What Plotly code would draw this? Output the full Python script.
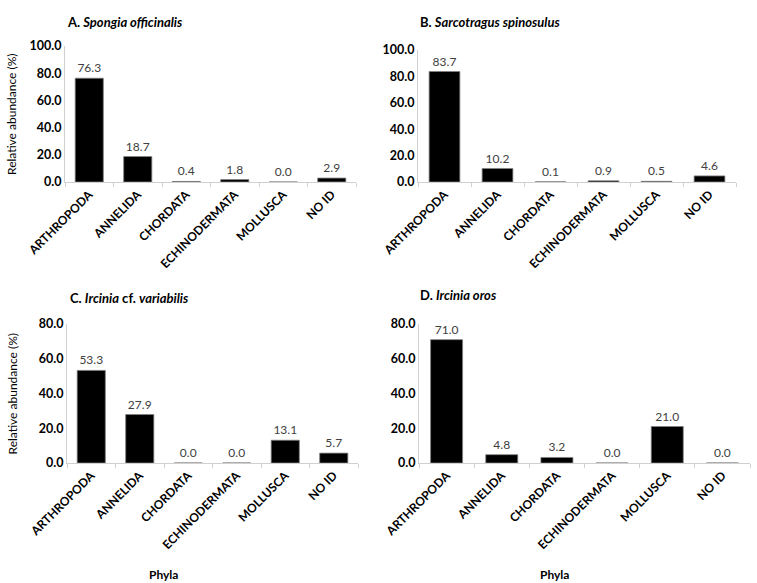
import plotly.graph_objects as go

FONT = "Lato, Carlito, 'Open Sans', sans-serif"

phyla = ["ARTHROPODA", "ANNELIDA", "CHORDATA", "ECHINODERMATA", "MOLLUSCA", "NO ID"]

spongia = [76.3, 18.7, 0.4, 1.8, 0.0, 2.9]
sarcotragus = [83.7, 10.2, 0.1, 0.9, 0.5, 4.6]
ircinia_var = [53.3, 27.9, 0.0, 0.0, 13.1, 5.7]
ircinia_oros = [71.0, 4.8, 3.2, 0.0, 21.0, 0.0]

titles = [
    "<b>A. <i>Spongia officinalis</i></b>",
    "<b>B. <i>Sarcotragus spinosulus</i></b>",
    "<b>C. <i>Ircinia</i> cf. <i>variabilis</i></b>",
    "<b>D. <i>Ircinia oros</i></b>",
]
y_max = [100, 100, 80, 80]

W, H = 757, 583


def px_x(v):
    return v / W


def px_y(v):
    return 1 - v / H


# plot-area boxes in pixels: (left, right, top, bottom)
boxes = [(65, 356, 46, 182), (418, 736, 50, 182), (67, 358, 324, 463), (419, 750, 324, 463)]
title_pos = [(65, 22), (418, 22), (68, 298), (418, 295)]
series = [spongia, sarcotragus, ircinia_var, ircinia_oros]

fig = go.Figure()
layout = {}
for i, vals in enumerate(series):
    n = "" if i == 0 else str(i + 1)
    l, r, t, b = boxes[i]
    fig.add_trace(go.Bar(
        x=phyla, y=vals, xaxis="x" + n, yaxis="y" + n,
        marker=dict(color="black", line=dict(color="#7f7f7f", width=0.8)),
        width=0.58, texttemplate="%{y:.1f}", textposition="outside",
        textfont=dict(size=12, color="#404040"), cliponaxis=False,
        showlegend=False, hoverinfo="x+y"))
    yt = list(range(0, y_max[i] + 1, 20))
    layout["xaxis" + n] = dict(
        domain=[px_x(l), px_x(r)], anchor="y" + n, tickangle=-45,
        tickvals=phyla, ticktext=["<b>%s</b>" % p for p in phyla],
        tickfont=dict(size=12, color="black"), showline=True,
        linecolor="#d0d0d0", linewidth=1, ticks="outside", tickson="boundaries",
        tickcolor="#d0d0d0", ticklen=4, showgrid=False, fixedrange=True,
        automargin=False)
    layout["yaxis" + n] = dict(
        domain=[px_y(b), px_y(t)], anchor="x" + n, range=[0, y_max[i]],
        tickvals=yt, ticktext=["<b>%.1f</b>" % v for v in yt],
        showline=True, linecolor="#d0d0d0", tickfont=dict(size=12.5, color="black"),
        showgrid=False, zeroline=False, ticks="", fixedrange=True, automargin=False)
    tx, ty = title_pos[i]
    fig.add_annotation(text=titles[i], x=px_x(tx), y=px_y(ty), xref="paper", yref="paper",
                       xanchor="left", yanchor="middle", showarrow=False,
                       font=dict(size=13, color="black"))

fig.update_layout(**layout)
fig.update_layout(
    width=W, height=H, margin=dict(l=0, r=0, t=0, b=0),
    plot_bgcolor="white", paper_bgcolor="white",
    font=dict(family=FONT, size=12, color="black"),
)

# y-axis titles on the left panels
for cy in [(46 + 182) / 2, (324 + 463) / 2]:
    fig.add_annotation(text="Relative abundance (%)", x=px_x(12), y=px_y(cy),
                       xref="paper", yref="paper", textangle=-90, showarrow=False,
                       xanchor="center", yanchor="middle",
                       font=dict(size=12, color="black"))
# x-axis titles on the bottom panels
for cx in [163, 554]:
    fig.add_annotation(text="<b>Phyla</b>", x=px_x(cx), y=px_y(574), xref="paper",
                       yref="paper", showarrow=False, xanchor="center", yanchor="middle",
                       font=dict(size=12, color="black"))

# drop the default page margin so the figure sits at the window origin
fig.write_html("out.html", config={"displayModeBar": False},
               post_script="document.body.style.margin='0';")
